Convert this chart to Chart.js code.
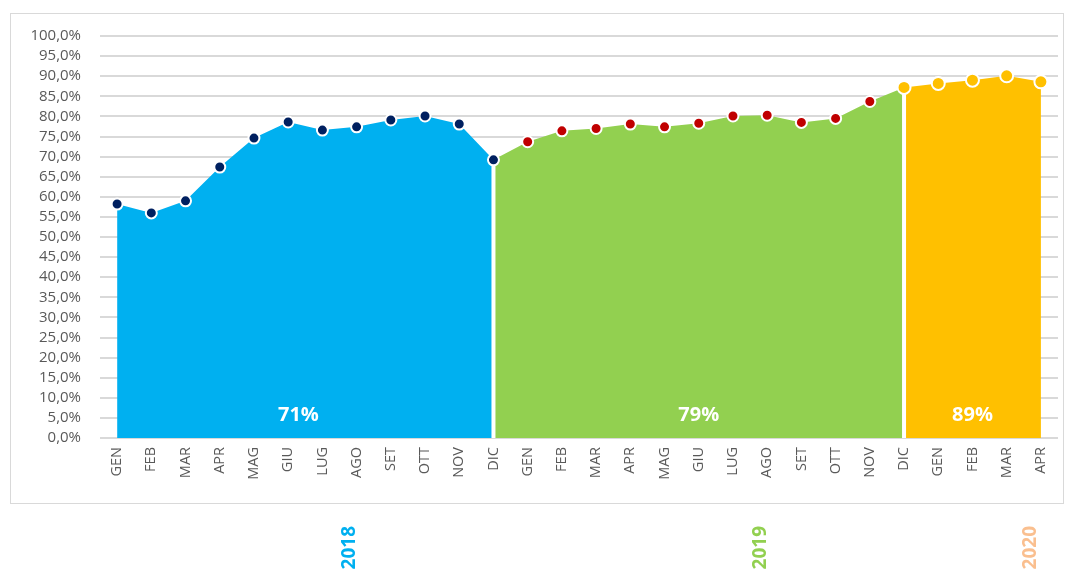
<!DOCTYPE html>
<html>
<head>
<meta charset="utf-8">
<script src="https://cdn.jsdelivr.net/npm/chart.js@4/dist/chart.umd.min.js"></script>
<style>
  html, body { margin: 0; padding: 0; background: #fff; }
  #wrap { width: 1069px; height: 574px; position: relative; }
</style>
</head>
<body>
<div id="wrap"><canvas id="myChart1"></canvas></div>
<script>
'use strict';
{
  // month labels, 2018 -> apr 2020
  var months = ['GEN', 'FEB', 'MAR', 'APR', 'MAG', 'GIU', 'LUG', 'AGO', 'SET', 'OTT', 'NOV', 'DIC',
                'GEN', 'FEB', 'MAR', 'APR', 'MAG', 'GIU', 'LUG', 'AGO', 'SET', 'OTT', 'NOV', 'DIC',
                'GEN', 'FEB', 'MAR', 'APR'];
  var rate2018 = [58.2, 56.0, 59.0, 67.4, 74.6, 78.6, 76.6, 77.4, 79.1, 80.1, 78.1, 69.2];
  var rate2019 = [73.7, 76.4, 77.0, 78.1, 77.4, 78.3, 80.1, 80.3, 78.5, 79.5, 83.7, 87.2];
  var rate2020 = [88.2, 89.0, 90.1, 88.6];
  var years = ['2018', '2019', '2020'];
  var yearAvg = ['71%', '79%', '89%'];

  var values = rate2018.concat(rate2019, rate2020);

  var areaColors = ['#00B0F0', '#92D050', '#FFC000'];
  var dotColors = ['#002060', '#C00000', '#FFC000'];
  var yearColors = ['#00B0F0', '#92D050', '#FABF8F'];
  // each area runs from the previous DIC to the last month of its year
  var segStart = [0, 11, 23];
  var segEnd = [11, 23, 27];
  var yearLabelAt = [6.8, 18.8, 26.7];
  var avgLabelAt = [5.3, 17, 25.0];

  function slice(s, e) {
    return values.map(function (v, i) { return (i >= s && i <= e) ? v : null; });
  }

  var pointColors = values.map(function (v, i) {
    return i < 12 ? dotColors[0] : (i < 23 ? dotColors[1] : dotColors[2]);
  });
  var pointSizes = values.map(function (v, i) { return i < 23 ? 5.5 : 6.5; });

  var areaSets = segStart.map(function (s, k) {
    return {
      data: slice(s, segEnd[k]),
      backgroundColor: areaColors[k],
      borderWidth: 0,
      pointRadius: 0,
      fill: 'origin',
      tension: 0,
      spanGaps: false,
      order: 2
    };
  });

  var frameAndText = {
    id: 'frameAndText',
    beforeDraw: function (chart) {
      var c = chart.ctx;
      c.save();
      c.fillStyle = '#fff';
      c.fillRect(0, 0, chart.width, chart.height);
      c.strokeStyle = '#D9D9D9';
      c.lineWidth = 1;
      c.strokeRect(10.5, 13.5, 1053, 490);
      c.restore();
    },
    beforeDatasetDraw: function (chart, args) {
      if (args.index !== 3) return;
      var c = chart.ctx, x = chart.scales.x, y = chart.scales.y;
      c.save();
      c.strokeStyle = '#fff';
      c.lineWidth = 4;
      [11, 23].forEach(function (i) {
        var px = x.getPixelForValue(i);
        c.beginPath();
        c.moveTo(px, y.getPixelForValue(values[i]));
        c.lineTo(px, y.getPixelForValue(0));
        c.stroke();
      });
      c.restore();
    },
    afterDatasetsDraw: function (chart) {
      var c = chart.ctx, x = chart.scales.x, y = chart.scales.y;
      var step = x.getPixelForValue(1) - x.getPixelForValue(0);
      var x0 = x.getPixelForValue(0);
      c.save();
      c.textAlign = 'center';
      c.textBaseline = 'middle';
      c.fillStyle = '#fff';
      c.font = 'bold 20px "Open Sans"';
      yearAvg.forEach(function (t, k) {
        c.fillText(t, x0 + step * avgLabelAt[k], y.getPixelForValue(5.7));
      });
      c.font = 'bold 19px "Open Sans"';
      c.textAlign = 'right';
      years.forEach(function (t, k) {
        c.save();
        c.translate(x0 + step * yearLabelAt[k], 526);
        c.rotate(-Math.PI / 2);
        c.fillStyle = yearColors[k];
        c.fillText(t, 0, 0);
        c.restore();
      });
      c.restore();
    }
  };

  var ctx = document.getElementById('myChart1').getContext('2d');

  var myChart = new Chart(ctx, {
    type: 'line',
    data: {
      labels: months,
      datasets: areaSets.concat([{
        data: values,
        showLine: false,
        pointRadius: pointSizes,
        pointHoverRadius: pointSizes,
        pointBorderWidth: 2,
        pointBorderColor: '#fff',
        pointBackgroundColor: pointColors,
        order: 1
      }])
    },
    options: {
      responsive: true,
      maintainAspectRatio: false,
      animation: false,
      layout: {
        padding: { left: 0, right: 11, top: 36, bottom: 0 }
      },
      plugins: {
        legend: { display: false },
        tooltip: { enabled: false }
      },
      scales: {
        x: {
          offset: true,
          grid: { display: false, drawTicks: false },
          border: { display: false },
          afterFit: function (s) { s.height = 136; },
          ticks: {
            padding: 9,
            maxRotation: 90,
            minRotation: 90,
            autoSkip: false,
            color: '#595959',
            font: { family: '"Open Sans"', size: 14.5 }
          }
        },
        y: {
          min: 0,
          max: 100,
          afterFit: function (s) { s.width = 100; },
          grid: { color: '#D9D9D9', lineWidth: 2, drawTicks: false },
          border: { display: false },
          ticks: {
            stepSize: 5,
            autoSkip: false,
            padding: 19,
            color: '#595959',
            font: { family: '"Open Sans"', size: 15 },
            callback: function (value) {
              return value.toFixed(1).replace('.', ',') + '%';
            }
          }
        }
      }
    },
    plugins: [frameAndText]
  });
}
</script>
</body>
</html>
